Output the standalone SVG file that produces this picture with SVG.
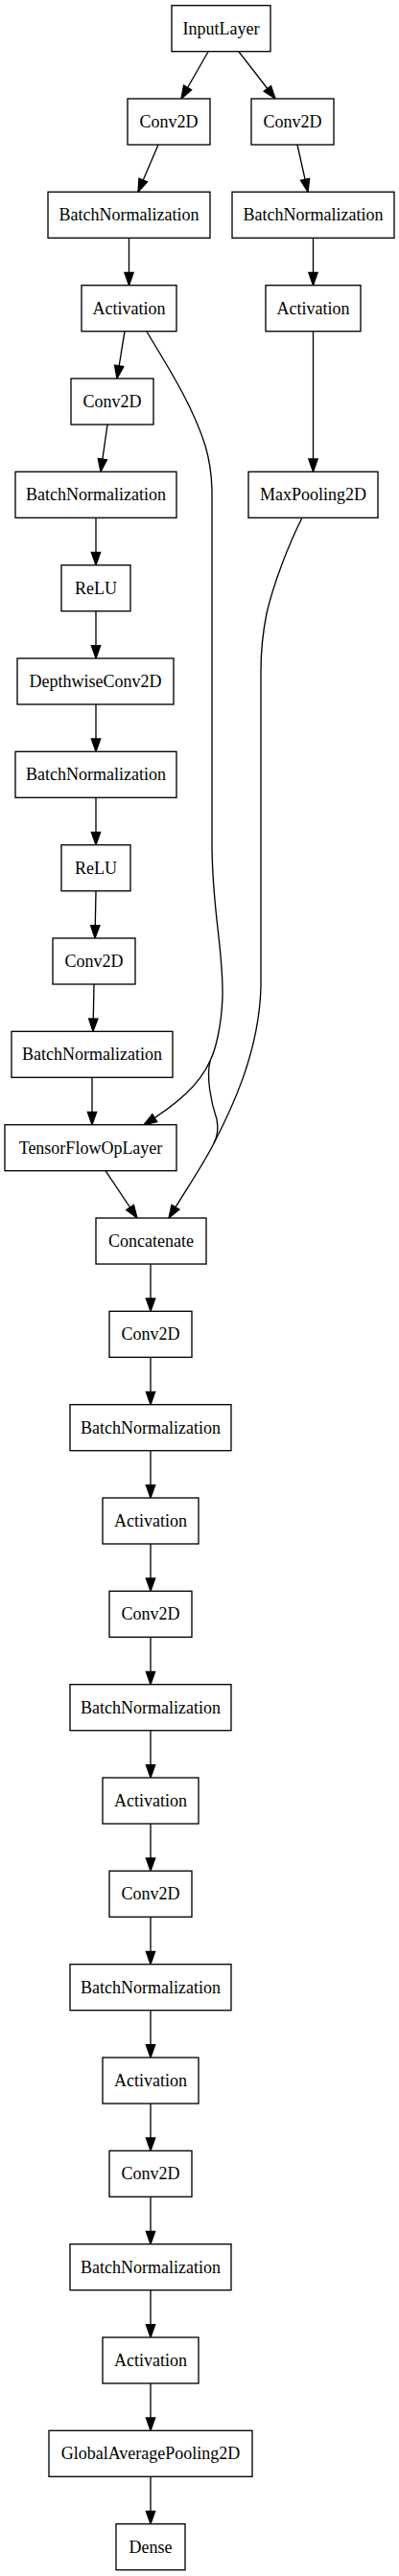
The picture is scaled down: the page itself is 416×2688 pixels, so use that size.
<svg xmlns="http://www.w3.org/2000/svg" width="416" height="2688" viewBox="0 0 416 2688">
<style>
.n rect{fill:#fff;stroke:#000;stroke-width:1.33}
.n text{font-family:"Liberation Serif","Times New Roman",serif;font-size:18px;fill:#000;text-anchor:middle}
.e path{fill:none;stroke:#000;stroke-width:1.33;marker-end:url(#ah)}
.e path.nm{marker-end:none}
</style>
<defs>
<marker id="ah" markerUnits="userSpaceOnUse" viewBox="0 0 14 10" markerWidth="14" markerHeight="10" refX="13.33" refY="4.67" orient="auto" overflow="visible">
<path d="M0,0 L13.33,4.67 L0,9.33 Z" fill="#000" stroke="#000" stroke-width="1.33"/>
</marker>
</defs>
<rect width="416" height="2688" fill="#fff"/>
<g class="e" id="edges">
<path d="M217,54 L189,103"/>
<path d="M249,54 L287,103"/>
<path d="M165,151 L144,200.3"/>
<path d="M310,151 L321,200.3"/>
<path d="M134.5,248.3 L134.5,297.7"/>
<path d="M326.5,248.3 L326.5,297.7"/>
<path d="M130,345.7 L122,395"/>
<path d="M326.5,345.7 L326.5,492.3"/>
<path d="M112,443 L105,492.3"/>
<path d="M100,540.3 L100,589.7"/>
<path d="M100,637.7 L100,687"/>
<path d="M100,735 L100,784.3"/>
<path d="M100,832.3 L100,881.7"/>
<path d="M100,929.7 L99,979"/>
<path d="M98,1027 L97,1076.3"/>
<path d="M96,1124.3 L96,1173.7"/>
<path d="M110,1221.7 L143,1271"/>
<path d="M153,346 C170,375 200,420 214,465 C219,482 221,500 221,515 L221,880 C221,950 233,990 232,1040 C231,1070 225,1095 219,1107 C208,1132 185,1152 150,1173.7"/>
<path class="nm" d="M219,1107 C215,1125 220,1150 226,1168 C228,1178 226,1187 223,1193"/>
<path d="M315,540.3 C300,570 285,610 278,640 C274,660 272,680 272,700 L272,1030 C270,1100 240,1160 223,1193 C212,1215 195,1240 176,1271"/>
<path d="M157,1319 L157,1368.3"/>
<path d="M157,1416.3 L157,1465.7"/>
<path d="M157,1513.7 L157,1563"/>
<path d="M157,1611 L157,1660.3"/>
<path d="M157,1708.3 L157,1757.7"/>
<path d="M157,1805.7 L157,1855"/>
<path d="M157,1903 L157,1952.3"/>
<path d="M157,2000.3 L157,2049.7"/>
<path d="M157,2097.7 L157,2147"/>
<path d="M157,2195 L157,2244.3"/>
<path d="M157,2292.3 L157,2341.7"/>
<path d="M157,2389.7 L157,2439"/>
<path d="M157,2487 L157,2536.3"/>
<path d="M157,2584.3 L157,2633.7"/>
</g>
<g class="n" id="n0"><rect x="179" y="5.7" width="103" height="48"/><text x="230.5" y="35.7">InputLayer</text></g>
<g class="n" id="n1"><rect x="133" y="103" width="86" height="48"/><text x="176" y="133">Conv2D</text></g>
<g class="n" id="n2"><rect x="262" y="103" width="86" height="48"/><text x="305" y="133">Conv2D</text></g>
<g class="n" id="n3"><rect x="50" y="200.3" width="169" height="48"/><text x="134.5" y="230.3">BatchNormalization</text></g>
<g class="n" id="n4"><rect x="242" y="200.3" width="169" height="48"/><text x="326.5" y="230.3">BatchNormalization</text></g>
<g class="n" id="n5"><rect x="85" y="297.7" width="99" height="48"/><text x="134.5" y="327.7">Activation</text></g>
<g class="n" id="n6"><rect x="277" y="297.7" width="99" height="48"/><text x="326.5" y="327.7">Activation</text></g>
<g class="n" id="n7"><rect x="74" y="395" width="86" height="48"/><text x="117" y="425">Conv2D</text></g>
<g class="n" id="n8"><rect x="16" y="492.3" width="168" height="48"/><text x="100" y="522.3">BatchNormalization</text></g>
<g class="n" id="n9"><rect x="259" y="492.3" width="135" height="48"/><text x="326.5" y="522.3">MaxPooling2D</text></g>
<g class="n" id="n10"><rect x="64" y="589.7" width="72" height="48"/><text x="100" y="619.7">ReLU</text></g>
<g class="n" id="n11"><rect x="18" y="687" width="163" height="48"/><text x="99.5" y="717">DepthwiseConv2D</text></g>
<g class="n" id="n12"><rect x="16" y="784.3" width="168" height="48"/><text x="100" y="814.3">BatchNormalization</text></g>
<g class="n" id="n13"><rect x="64" y="881.7" width="72" height="48"/><text x="100" y="911.7">ReLU</text></g>
<g class="n" id="n14"><rect x="55" y="979" width="86" height="48"/><text x="98" y="1009">Conv2D</text></g>
<g class="n" id="n15"><rect x="12" y="1076.3" width="168" height="48"/><text x="96" y="1106.3">BatchNormalization</text></g>
<g class="n" id="n16"><rect x="5" y="1173.7" width="179" height="48"/><text x="94.5" y="1203.7">TensorFlowOpLayer</text></g>
<g class="n" id="n17"><rect x="100" y="1271" width="115" height="48"/><text x="157.5" y="1301">Concatenate</text></g>
<g class="n" id="n18"><rect x="114" y="1368.3" width="86" height="48"/><text x="157" y="1398.3">Conv2D</text></g>
<g class="n" id="n19"><rect x="73" y="1465.7" width="168" height="48"/><text x="157" y="1495.7">BatchNormalization</text></g>
<g class="n" id="n20"><rect x="107" y="1563" width="100" height="48"/><text x="157" y="1593">Activation</text></g>
<g class="n" id="n21"><rect x="114" y="1660.3" width="86" height="48"/><text x="157" y="1690.3">Conv2D</text></g>
<g class="n" id="n22"><rect x="73" y="1757.7" width="168" height="48"/><text x="157" y="1787.7">BatchNormalization</text></g>
<g class="n" id="n23"><rect x="107" y="1855" width="100" height="48"/><text x="157" y="1885">Activation</text></g>
<g class="n" id="n24"><rect x="114" y="1952.3" width="86" height="48"/><text x="157" y="1982.3">Conv2D</text></g>
<g class="n" id="n25"><rect x="73" y="2049.7" width="168" height="48"/><text x="157" y="2079.7">BatchNormalization</text></g>
<g class="n" id="n26"><rect x="107" y="2147" width="100" height="48"/><text x="157" y="2177">Activation</text></g>
<g class="n" id="n27"><rect x="114" y="2244.3" width="86" height="48"/><text x="157" y="2274.3">Conv2D</text></g>
<g class="n" id="n28"><rect x="73" y="2341.7" width="168" height="48"/><text x="157" y="2371.7">BatchNormalization</text></g>
<g class="n" id="n29"><rect x="107" y="2439" width="100" height="48"/><text x="157" y="2469">Activation</text></g>
<g class="n" id="n30"><rect x="51" y="2536.3" width="212" height="48"/><text x="157" y="2566.3">GlobalAveragePooling2D</text></g>
<g class="n" id="n31"><rect x="121" y="2633.7" width="72" height="48"/><text x="157" y="2663.7">Dense</text></g>
</svg>
